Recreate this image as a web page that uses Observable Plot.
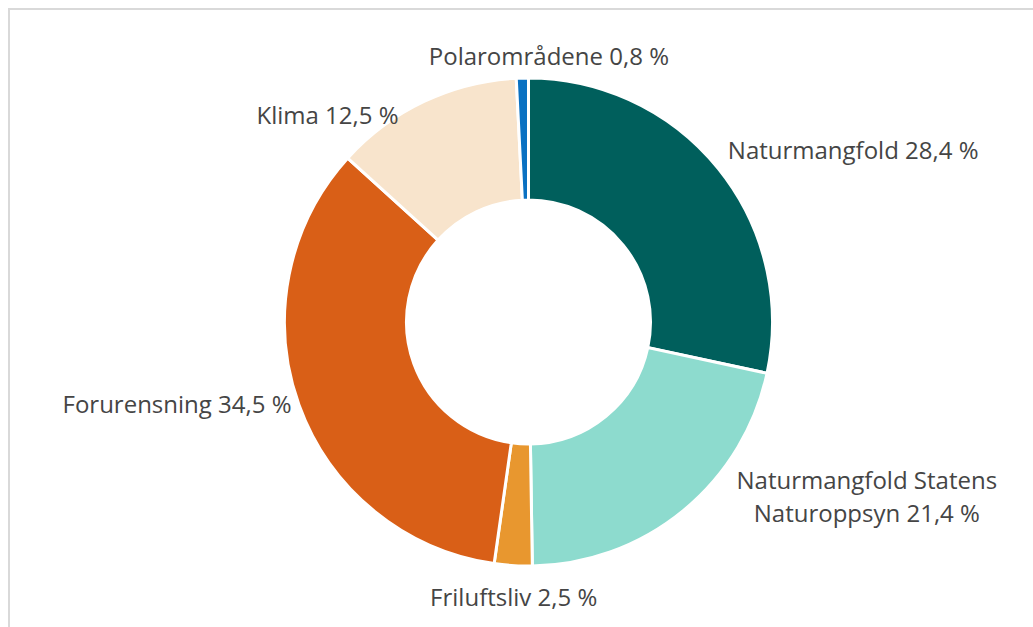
<!DOCTYPE html>
<html>
<head>
<meta charset="utf-8">
<script src="https://cdn.jsdelivr.net/npm/d3@7"></script>
<script src="https://cdn.jsdelivr.net/npm/@observablehq/plot@0.6"></script>
<style>
  html, body { margin: 0; padding: 0; background: #fff; overflow: hidden; }
  #wrap { position: relative; width: 1033px; height: 627px; overflow: hidden; }
  #frame { position: absolute; left: 8px; top: 8px; width: 1100px; height: 700px; border: 2px solid #d9d9d9; box-sizing: border-box; }
  #chart { position: absolute; left: 0; top: 0; }
</style>
</head>
<body>
<div id="wrap"><div id="frame"></div><div id="chart"></div></div>
<script>
const categories = ["Naturmangfold", "Naturmangfold Statens Naturoppsyn", "Friluftsliv", "Forurensning", "Klima", "Polarområdene"];
const values = [28.4, 21.4, 2.5, 34.5, 12.5, 0.8];
const valueLabels = ["28,4 %", "21,4 %", "2,5 %", "34,5 %", "12,5 %", "0,8 %"];
const labelNames = ["Naturmangfold", "Naturmangfold Statens\nNaturoppsyn", "Friluftsliv", "Forurensning", "Klima", "Polarområdene"];
const colors = ["#005f5c", "#8ddbce", "#e8972f", "#d95f17", "#f8e4cc", "#0a71c2"];

const W = 1033, H = 627;
const cx = 528.5, cy = 322, R = 244, R0 = 122;

const data = categories.map((c, i) => ({category: c, value: values[i], label: labelNames[i] + " " + valueLabels[i], color: colors[i]}));
const arcs = d3.pie().sort(null).value(d => d.value)(data);

// label placement: edge point at mid-angle, then shifted outward like the original's label boxes
const nudges = [[9, -21], [183, -16], [0, 30], [-8, -3], [-26, 12], [26, -24]];
const anchors = ["start", "middle", "middle", "end", "end", "middle"];
const labelData = arcs.map((a, i) => {
  const m = (a.startAngle + a.endAngle) / 2;
  return {
    label: a.data.label,
    anchor: anchors[i],
    x: cx + R * Math.sin(m) + nudges[i][0],
    y: cy - R * Math.cos(m) + nudges[i][1]
  };
});

function donut(index, scales) {
  const x0 = scales.x(cx), y0 = scales.y(cy);
  const ro = scales.x(cx + R) - x0, ri = scales.x(cx + R0) - x0;
  const arc = d3.arc().innerRadius(ri).outerRadius(ro);
  const g = d3.create("svg:g").attr("transform", `translate(${x0},${y0})`);
  g.selectAll("path").data(arcs).join("path")
    .attr("d", arc)
    .attr("fill", d => d.data.color)
    .attr("stroke", "#fff")
    .attr("stroke-width", 3)
    .attr("stroke-linejoin", "miter");
  return g.node();
}

const textOpts = {x: "x", y: "y", text: "label", fill: "#454545", fontSize: 24, lineAnchor: "middle", lineHeight: 1.36};

const chart = Plot.plot({
  width: W, height: H,
  margin: 0,
  x: {domain: [0, W], range: [0, W], axis: null},
  y: {domain: [0, H], range: [0, H], axis: null},
  style: {fontFamily: "'Open Sans', sans-serif", background: "transparent"},
  marks: [
    donut,
    ...["start", "middle", "end"].map(an => Plot.text(labelData.filter(d => d.anchor === an), {...textOpts, textAnchor: an}))
  ]
});
document.getElementById("chart").appendChild(chart);
</script>
</body>
</html>
